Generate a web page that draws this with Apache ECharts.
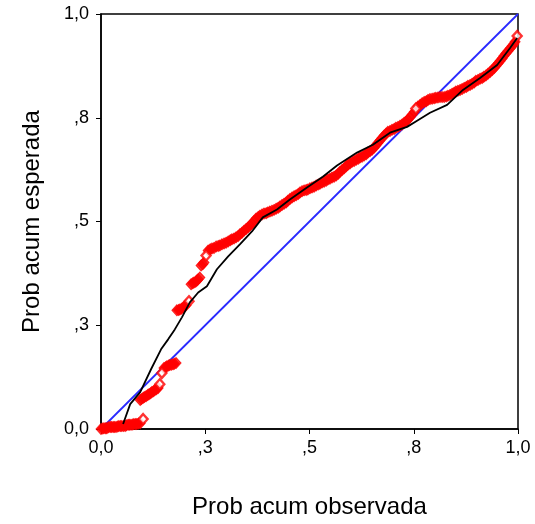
<!DOCTYPE html>
<html>
<head>
<meta charset="utf-8">
<script src="https://cdn.jsdelivr.net/npm/echarts@6/dist/echarts.min.js"></script>
<style>html,body{margin:0;padding:0;background:#fff}#c{width:535px;height:524px}</style>
</head>
<body>
<div id="c"></div>
<script>
var tickValues = [0, 0.25, 0.5, 0.75, 1];
var tickLabels = ['0,0', ',3', ',5', ',8', '1,0'];
var xName = 'Prob acum observada';
var yName = 'Prob acum esperada';

// observed points (red diamonds), first reading
var obsX = [0.000,0.007,0.014,0.022,0.029,0.036,0.043,0.050,0.058,0.065,0.072,0.079,0.086,0.094,
  0.094,0.101,0.108,0.115,0.122,0.129,0.137,
  0.151,0.158,0.165,0.173,0.180,
  0.182,0.189,0.197,0.204,
  0.216,0.223,0.230,0.237,
  0.240,0.247,
  0.257,0.266,0.276,0.285,0.295,0.305,0.314,0.324,0.333,0.343,0.353,0.362,0.372,0.381,0.391,0.400,
  0.410,0.420,0.429,0.439,0.448,0.458,0.468,0.477,0.487,0.496,0.506,0.516,0.525,0.535,0.544,0.554,
  0.564,0.573,0.583,0.592,0.602,0.612,0.621,0.631,0.640,0.650,0.659,0.669,0.679,0.688,0.698,0.707,
  0.717,0.727,0.736,0.746,0.765,0.775,0.784,0.794,0.803,0.813,0.823,0.832,0.842,0.851,0.861,
  0.871,0.880,0.890,0.899,0.909,0.918,0.928,0.938,0.947,0.957,0.966,0.976,0.986,0.993];
var obsY = [0.000,0.002,0.002,0.005,0.005,0.005,0.007,0.007,0.007,0.010,0.010,0.012,0.012,0.014,
  0.070,0.075,0.079,0.084,0.089,0.094,0.099,
  0.147,0.151,0.154,0.156,0.159,
  0.286,0.288,0.293,0.298,
  0.349,0.353,0.358,0.365,
  0.394,0.401,
  0.430,0.435,0.440,0.442,0.447,0.452,0.457,0.462,0.469,0.478,0.486,0.495,0.507,0.514,0.519,0.522,
  0.526,0.531,0.536,0.543,0.550,0.558,0.563,0.570,0.575,0.577,0.582,0.587,0.591,0.596,0.601,0.606,
  0.611,0.620,0.628,0.637,0.644,0.649,0.654,0.659,0.666,0.673,0.683,0.695,0.707,0.716,0.721,0.726,
  0.731,0.738,0.745,0.757,0.781,0.788,0.793,0.796,0.798,0.800,0.800,0.803,0.808,0.813,0.817,
  0.822,0.827,0.832,0.839,0.844,0.849,0.856,0.865,0.875,0.887,0.899,0.911,0.923,0.933];

// observed points (red diamonds), second reading between the first ones
var obsX2 = [0.004,0.011,0.018,0.025,0.032,0.040,0.047,0.054,0.061,0.068,0.076,0.083,0.090,
  0.097,0.104,0.112,0.119,0.126,0.133,
  0.155,0.162,0.169,0.176,
  0.186,0.193,0.200,
  0.220,0.227,0.233,
  0.244,
  0.262,0.271,0.281,0.290,0.300,0.310,0.319,0.329,0.338,0.348,0.358,0.367,0.377,0.386,0.396,0.405,
  0.415,0.425,0.434,0.444,0.453,0.463,0.473,0.482,0.492,0.501,0.511,0.521,0.530,0.540,0.549,0.559,
  0.569,0.578,0.588,0.597,0.607,0.617,0.626,0.636,0.645,0.655,0.664,0.674,0.684,0.693,0.703,0.712,
  0.722,0.732,0.741,0.751,0.760,0.770,0.780,0.789,0.799,0.808,0.818,0.828,0.837,0.847,0.856,0.866,
  0.876,0.885,0.895,0.904,0.914,0.923,0.933,0.943,0.952,0.962,0.971,0.981,0.990];
var obsY2 = [0.001,0.002,0.004,0.005,0.005,0.006,0.007,0.007,0.009,0.010,0.011,0.012,0.013,
  0.072,0.077,0.082,0.086,0.091,0.096,
  0.149,0.153,0.155,0.157,
  0.287,0.290,0.295,
  0.351,0.355,0.361,
  0.397,
  0.433,0.436,0.441,0.445,0.449,0.455,0.459,0.465,0.473,0.482,0.491,0.501,0.511,0.517,0.520,0.524,
  0.528,0.533,0.540,0.546,0.554,0.561,0.566,0.573,0.576,0.580,0.584,0.589,0.594,0.598,0.603,0.608,
  0.615,0.624,0.633,0.640,0.646,0.651,0.656,0.662,0.669,0.678,0.689,0.701,0.712,0.718,0.723,0.728,
  0.734,0.741,0.751,0.764,0.777,0.785,0.790,0.795,0.797,0.799,0.800,0.801,0.805,0.810,0.815,0.819,
  0.824,0.829,0.835,0.841,0.846,0.852,0.860,0.870,0.881,0.893,0.905,0.917,0.928];

// observed points at the ends of the groups (open diamonds seen clearly)
var obsOpenX = [0.101,0.141,0.146,0.211,0.252,0.755,0.998];
var obsOpenY = [0.024,0.108,0.135,0.308,0.418,0.772,0.947];

// expected curve (black line)
var expX = [0.053,0.070,0.094,0.120,0.144,0.161,0.177,0.194,0.213,0.233,0.254,0.278,0.305,0.333,0.362,
  0.388,0.422,0.453,0.494,0.532,0.566,0.614,0.652,0.693,0.734,0.758,0.789,0.830,0.868,0.909,0.950,0.981,0.998];
var expY = [0.012,0.060,0.089,0.144,0.192,0.216,0.240,0.269,0.305,0.329,0.344,0.385,0.416,0.445,0.476,
  0.510,0.529,0.553,0.582,0.608,0.635,0.666,0.685,0.714,0.728,0.743,0.762,0.781,0.817,0.846,0.877,0.918,0.942];

// reference diagonal
var diagX = [0, 1];
var diagY = [0, 1];

function zip(a, b) { return a.map(function (v, i) { return [v, b[i]]; }); }

function fmt(v) {
  for (var i = 0; i < tickValues.length; i++) if (Math.abs(v - tickValues[i]) < 1e-6) return tickLabels[i];
  return '';
}

var FONT = 'Liberation Sans, Arial, sans-serif';
var chart = echarts.init(document.getElementById('c'), null, { renderer: 'canvas' });
var axisCommon = {
  type: 'value', min: 0, max: 1, interval: 0.25,
  nameLocation: 'middle',
  nameTextStyle: { fontFamily: FONT, fontSize: 24, color: '#000' },
  axisLine: { show: true, onZero: false, lineStyle: { color: '#000', width: 1.5 } },
  axisTick: { show: true, length: 5, lineStyle: { color: '#000', width: 1 } },
  splitLine: { show: false },
  axisLabel: { formatter: fmt, fontFamily: FONT, fontSize: 18, color: '#000' }
};
var bandStyle = { color: '#ff0000', borderColor: '#ff0000', borderWidth: 1 };
var openStyle = { color: '#fff', borderColor: '#ff0000', borderWidth: 2.4 };
chart.setOption({
  animation: false,
  grid: { left: 101, right: 17, top: 14, bottom: 94, show: true, borderColor: '#000', borderWidth: 1.5, backgroundColor: 'transparent' },
  xAxis: Object.assign({}, axisCommon, { name: xName, nameGap: 66, axisLabel: Object.assign({}, axisCommon.axisLabel, { margin: 10 }) }),
  yAxis: Object.assign({}, axisCommon, { name: yName, nameGap: 57, nameRotate: 90, axisLabel: Object.assign({}, axisCommon.axisLabel, { margin: 12 }) }),
  series: [
    { type: 'line', data: zip(diagX, diagY), showSymbol: false, lineStyle: { color: '#2a2aff', width: 1.8 }, z: 1 },
    { type: 'scatter', data: zip(obsX2, obsY2), symbol: 'diamond', symbolSize: [10, 11], itemStyle: bandStyle, z: 2 },
    { type: 'scatter', data: zip(obsX, obsY), symbol: 'diamond', symbolSize: [10, 11], itemStyle: bandStyle, z: 2 },
    { type: 'scatter', data: zip(obsOpenX, obsOpenY), symbol: 'diamond', symbolSize: [9, 10], itemStyle: openStyle, z: 3 },
    { type: 'line', data: zip(expX, expY), showSymbol: false, lineStyle: { color: '#000', width: 1.8 }, z: 4 }
  ]
});
</script>
</body>
</html>
